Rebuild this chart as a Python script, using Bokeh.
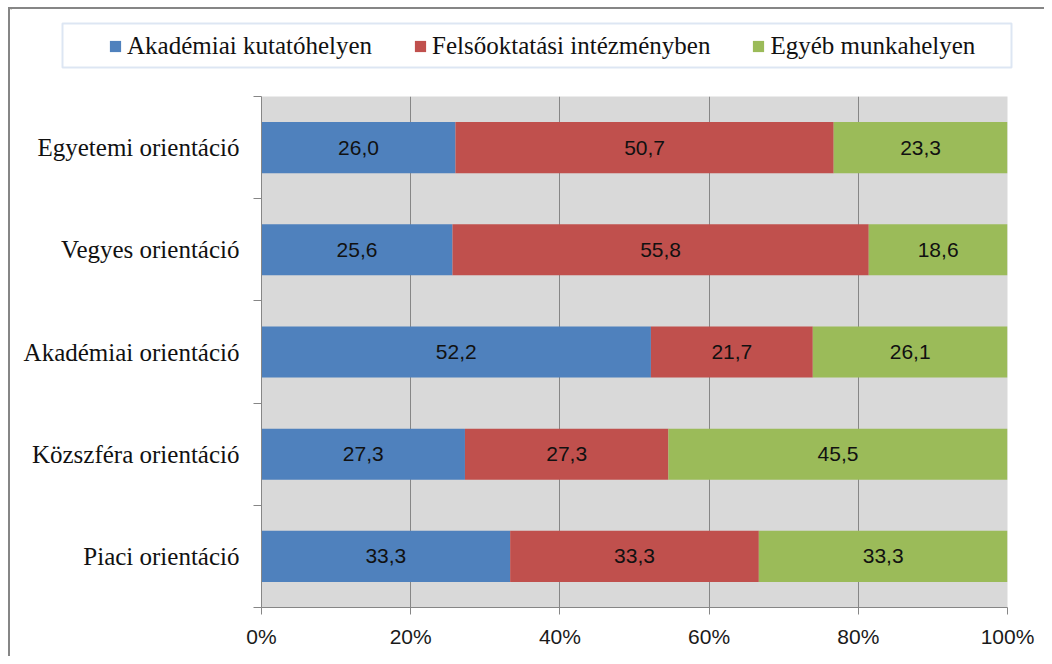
from bokeh.plotting import figure
from bokeh.layouts import column
from bokeh.models import (ColumnDataSource, Range1d, FixedTicker, PrintfTickFormatter,
                          Legend, LegendItem, BoxAnnotation)
from bokeh.core.properties import value
from bokeh.embed import file_html
from bokeh.resources import INLINE

# ---- data (top to bottom as shown) ----
categories = ["Egyetemi orientáció", "Vegyes orientáció", "Akadémiai orientáció",
              "Közszféra orientáció", "Piaci orientáció"]
series_names = ["Akadémiai kutatóhelyen", "Felsőoktatási intézményben", "Egyéb munkahelyen"]
akademiai = [26.0, 25.6, 52.2, 27.3, 33.3]
felsooktatasi = [50.7, 55.8, 21.7, 27.3, 33.3]
egyeb = [23.3, 18.6, 26.1, 45.5, 33.3]
x_ticks = [0, 20, 40, 60, 80, 100]
colors = ["#4F81BD", "#C0504D", "#9BBB59"]

SERIF = "Liberation Serif"
SANS = "Liberation Sans"
GRID = "#868686"

W = 1034          # content width
TOP_H = 87        # legend strip height
BOT_H = 560       # chart height

n = len(categories)
series = [akademiai, felsooktatasi, egyeb]
totals = [sum(v) for v in zip(*series)]
pct = [[v / t * 100.0 for v, t in zip(s, totals)] for s in series]
ypos = [n - 1 - i + 0.5 for i in range(n)]

# ---------------- legend strip ----------------
top = figure(width=W, height=TOP_H, output_backend="svg", toolbar_location=None,
             x_range=Range1d(0, W), y_range=Range1d(TOP_H, 0),
             min_border=0, min_border_left=0, min_border_right=0,
             min_border_top=0, min_border_bottom=0)
top.frame_align = False
top.axis.visible = False
top.grid.visible = False
top.outline_line_color = None
top.background_fill_color = "white"
top.border_fill_color = "white"

top.add_layout(BoxAnnotation(left=52, right=1001, top=14, bottom=58,
                             fill_color="white", fill_alpha=1, line_color="#8FADD6",
                             line_width=2, level="underlay"))

# swatch renderers for the legend (placed outside the visible range)
dummy = [top.hbar(y=[-500], left=[0], right=[1], height=1, fill_color=c, line_color=None)
         for c in colors]
legend = Legend(items=[LegendItem(label=nm, renderers=[r]) for nm, r in zip(series_names, dummy)],
                orientation="horizontal", location=(98, 36),
                border_line_color=None, background_fill_alpha=0,
                glyph_width=14, glyph_height=14, label_standoff=5, spacing=41, padding=8,
                label_text_font=SERIF, label_text_font_size="25px", label_text_color="#111111")
top.add_layout(legend)

# ---------------- chart ----------------
src = ColumnDataSource(dict(y=ypos, s0=pct[0], s1=pct[1], s2=pct[2]))

p = figure(width=W, height=BOT_H, output_backend="svg", toolbar_location=None,
           x_range=Range1d(0, 100), y_range=Range1d(0, n),
           min_border_left=251, min_border_right=37, min_border_top=0, min_border_bottom=49)
p.frame_align = False

p.background_fill_color = "#D9D9D9"
p.border_fill_color = "white"
p.outline_line_color = None

renderers = p.hbar_stack(["s0", "s1", "s2"], y="y", height=0.5, fill_color=colors,
                         line_color=None, source=src)

lx, ly, lt = [], [], []
for si, s in enumerate(series):
    for ci in range(n):
        start = sum(pct[k][ci] for k in range(si))
        lx.append(start + pct[si][ci] / 2.0)
        ly.append(ypos[ci])
        lt.append(f"{s[ci]:.1f}".replace(".", ","))
p.text(x=lx, y=ly, text=lt, text_align="center", text_baseline="middle",
       text_font=value(SANS), text_font_size="21px", text_color="#111111")

p.xaxis.ticker = FixedTicker(ticks=x_ticks)
p.xaxis.formatter = PrintfTickFormatter(format="%d%%")
p.xaxis.axis_line_color = GRID
p.xaxis.major_tick_line_color = GRID
p.xaxis.major_tick_out = 7
p.xaxis.major_tick_in = 0
p.xaxis.minor_tick_line_color = None
p.xaxis.major_label_text_font = SANS
p.xaxis.major_label_text_font_size = "21px"
p.xaxis.major_label_text_color = "#1a1a1a"
p.xaxis.major_label_standoff = 10

p.xgrid.ticker = FixedTicker(ticks=x_ticks)
p.xgrid.grid_line_color = GRID
p.ygrid.visible = False

p.yaxis.ticker = FixedTicker(ticks=ypos, minor_ticks=list(range(n + 1)))
p.yaxis.major_label_overrides = {y: c for y, c in zip(ypos, categories)}
p.yaxis.axis_line_color = GRID
p.yaxis.major_tick_line_color = None
p.yaxis.major_tick_out = 0
p.yaxis.major_tick_in = 0
p.yaxis.minor_tick_line_color = GRID
p.yaxis.minor_tick_out = 8
p.yaxis.minor_tick_in = 0
p.yaxis.major_label_text_font = SERIF
p.yaxis.major_label_text_font_size = "25px"
p.yaxis.major_label_text_color = "#111111"
p.yaxis.major_label_standoff = 14

layout = column(top, p, spacing=0,
                styles={"margin-left": "8px", "margin-top": "7px",
                        "border-left": "2px solid #868686", "border-top": "2px solid #868686"})

open("out.html", "w").write(file_html(layout, INLINE))
